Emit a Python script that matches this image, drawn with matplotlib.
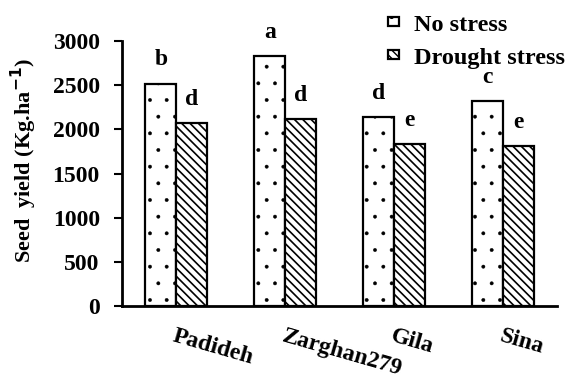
import matplotlib.pyplot as plt
import numpy as np

plt.rcParams['font.family'] = ['Liberation Serif', 'DejaVu Serif']
plt.rcParams['font.weight'] = 'bold'

# Data
cultivars = ['Padideh', 'Zarghan279', 'Gila', 'Sina']
no_stress = [2520, 2830, 2140, 2320]
drought = [2070, 2120, 1830, 1810]
letters_no = ['b', 'a', 'd', 'c']
letters_dr = ['d', 'd', 'e', 'e']

fig = plt.figure(figsize=(5.69, 3.81), dpi=100)
ax = fig.add_axes([0.2144, 0.197, 0.765, 0.695])

x = np.arange(len(cultivars))
w = 0.285

with plt.rc_context({'hatch.linewidth': 0.3}):
    b1 = ax.bar(x - w / 2, no_stress, w, color='white', edgecolor='black',
                linewidth=1.6, hatch='.', label='No stress')
with plt.rc_context({'hatch.linewidth': 1.2}):
    b2 = ax.bar(x + w / 2, drought, w, color='white', edgecolor='black',
                linewidth=1.6, hatch='\\\\\\\\', label='Drought stress')

for xi, v, t in zip(x - w / 2, no_stress, letters_no):
    ax.annotate(t, xy=(xi, v), xytext=(0, 9.5), textcoords='offset points',
                ha='center', va='bottom', fontsize=17, fontweight='bold',
                annotation_clip=False)
for xi, v, t in zip(x + w / 2, drought, letters_dr):
    ax.annotate(t, xy=(xi, v), xytext=(0, 9.5), textcoords='offset points',
                ha='center', va='bottom', fontsize=17, fontweight='bold',
                annotation_clip=False)

ax.set_xlim(-0.5, 3.5)
ax.set_ylim(0, 3000)
ax.set_yticks(np.arange(0, 3001, 500))
ax.tick_params(axis='y', labelsize=17, width=1.5, length=6, pad=10)
ax.tick_params(axis='x', length=0, pad=14)
ax.set_xticks(x)
ax.set_xticklabels(cultivars, fontsize=17, fontweight='bold', rotation=-16,
                   ha='left', rotation_mode='anchor')
for lab in ax.get_yticklabels():
    lab.set_fontweight('bold')

for s in ['top', 'right']:
    ax.spines[s].set_visible(False)
for s in ['left', 'bottom']:
    ax.spines[s].set_linewidth(2)

ax.set_ylabel('Seed  yield (Kg.ha$^{\\mathbf{-1}}$)', fontsize=16, fontweight='bold')
ax.yaxis.set_label_coords(-0.19, 0.55)

fig.legend(handles=[b1, b2], loc='upper right', bbox_to_anchor=(0.995, 0.965),
           frameon=False, fontsize=17.5, handlelength=0.45, handleheight=0.2,
           handletextpad=0.6, labelspacing=0.5, borderaxespad=0.0,
           borderpad=0.05)

plt.savefig('out.png', dpi=100)
